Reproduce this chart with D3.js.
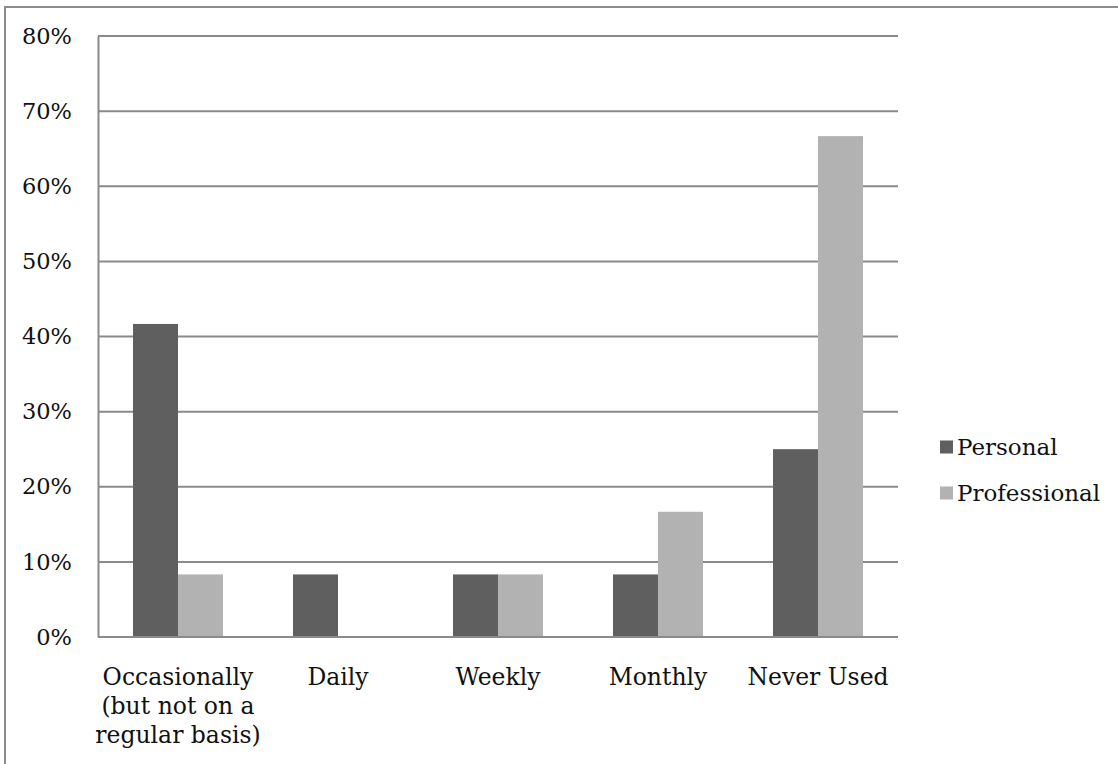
<!DOCTYPE html>
<html>
<head>
<meta charset="utf-8">
<script src="https://cdn.jsdelivr.net/npm/d3@7/dist/d3.min.js"></script>
<style>
  html, body { margin: 0; padding: 0; background: #fff; }
  svg { display: block; }
  text { font-family: "DejaVu Serif", serif; fill: #111; }
</style>
</head>
<body>
<svg id="chart" width="1118" height="764"></svg>
<script>
// Frequency of use, share of respondents
const categories = [
  ["Occasionally", "(but not on a", "regular basis)"],
  ["Daily"],
  ["Weekly"],
  ["Monthly"],
  ["Never Used"]
];
const seriesNames = ["Personal", "Professional"];
const personal = [0.4167, 0.0833, 0.0833, 0.0833, 0.25];
const professional = [0.0833, 0, 0.0833, 0.1667, 0.6667];
const yTicks = [0, 0.1, 0.2, 0.3, 0.4, 0.5, 0.6, 0.7, 0.8];
const colors = ["#5f5f5f", "#b2b2b2"];

const svg = d3.select("#chart");
const plot = { left: 98, right: 898, top: 36, bottom: 637 };

// outer chart frame (only top and left edges fall inside the page)
svg.append("path")
  .attr("d", "M5,766 L5,7 L1120,7")
  .attr("fill", "none").attr("stroke", "#8c8c8c").attr("stroke-width", 2);

const keys = categories.map((c, i) => i);
const x = d3.scaleBand().domain(keys).range([plot.left, plot.right]);
const barW = 45;
const x1 = d3.scaleBand().domain([0, 1])
  .range([(x.bandwidth() - 2 * barW) / 2, (x.bandwidth() + 2 * barW) / 2]);
const y = d3.scaleLinear().domain([0, 0.8]).range([plot.bottom, plot.top]);

// horizontal gridlines
svg.append("g").selectAll("line").data(yTicks).join("line")
  .attr("x1", plot.left).attr("x2", plot.right)
  .attr("y1", d => y(d)).attr("y2", d => y(d))
  .attr("stroke", "#8a8a8a").attr("stroke-width", 2);

// y axis line and labels
const yAxis = d3.axisLeft(y).tickValues(yTicks).tickFormat(d3.format(".0%")).tickSize(0).tickPadding(26);
const gy = svg.append("g").attr("transform", `translate(${plot.left},0)`).call(yAxis);
gy.select(".domain").attr("stroke", "#8a8a8a").attr("stroke-width", 2);
gy.selectAll("text").style("font-family", '"DejaVu Serif", serif').style("font-size", "22.5px").attr("fill", "#111");

// bars
const series = [personal, professional];
const gBars = svg.append("g");
series.forEach((vals, s) => {
  gBars.selectAll(null).data(vals).join("rect")
    .attr("x", (d, i) => x(i) + x1(s))
    .attr("width", x1.bandwidth())
    .attr("y", d => y(d))
    .attr("height", d => y(0) - y(d))
    .attr("fill", colors[s]);
});

// baseline
svg.append("line")
  .attr("x1", plot.left).attr("x2", plot.right)
  .attr("y1", y(0)).attr("y2", y(0))
  .attr("stroke", "#8a8a8a").attr("stroke-width", 2);

// category labels
const gx = svg.append("g");
categories.forEach((lines, i) => {
  const t = gx.append("text")
    .attr("text-anchor", "middle")
    .attr("font-size", 23.5)
    .attr("x", x(i) + x.bandwidth() / 2)
    .attr("y", 685);
  lines.forEach((ln, j) => {
    t.append("tspan").attr("x", x(i) + x.bandwidth() / 2).attr("dy", j === 0 ? 0 : 29).text(ln);
  });
});

// legend
const legend = svg.append("g");
seriesNames.forEach((name, s) => {
  const cy = 447 + s * 46;
  legend.append("rect").attr("x", 940).attr("y", cy - 6.5).attr("width", 13).attr("height", 13).attr("fill", colors[s]);
  legend.append("text").attr("x", 957).attr("y", cy + 8).attr("font-size", 23).text(name);
});
</script>
</body>
</html>
